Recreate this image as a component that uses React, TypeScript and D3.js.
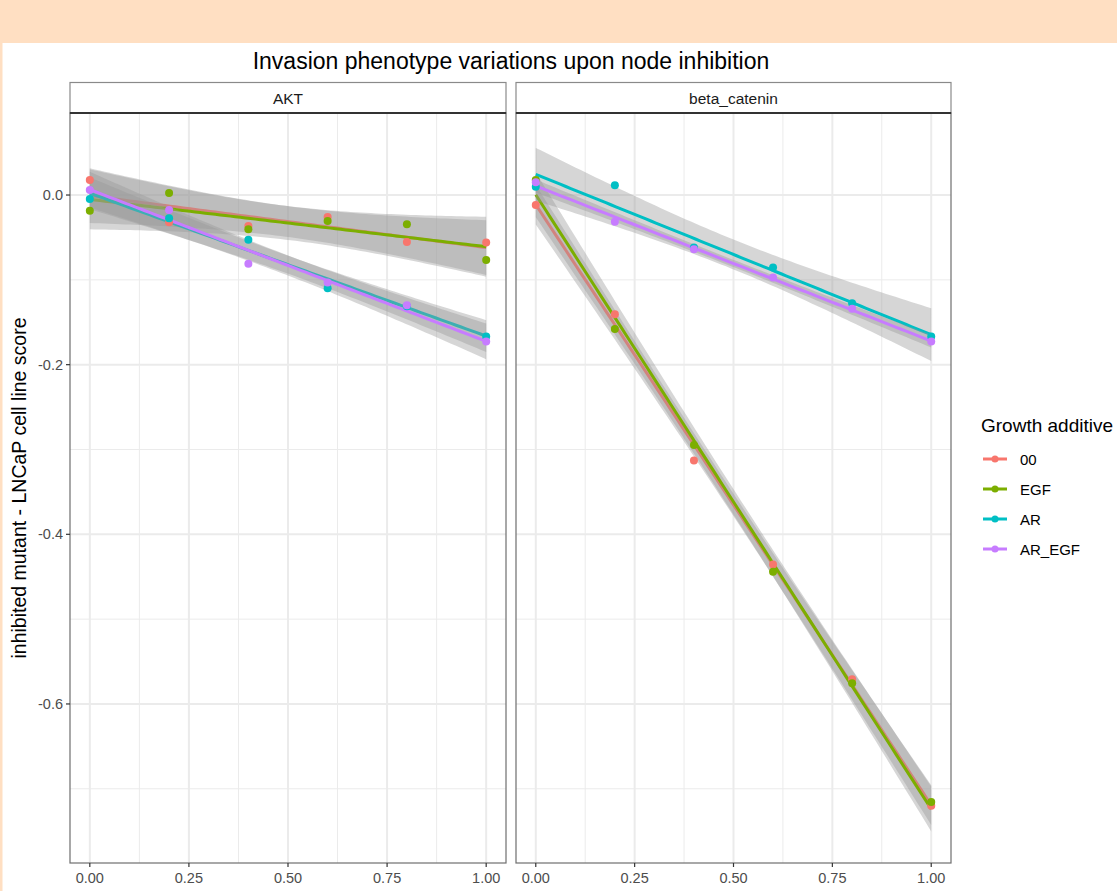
import * as d3 from "d3";
import { useEffect, useRef } from "react";

// values
const doses = [0, 0.2, 0.4, 0.6, 0.8, 1.0];
const panels = ["AKT", "beta_catenin"];
const additives = ["00", "EGF", "AR", "AR_EGF"];
const colors = ["#F8766D", "#7CAE00", "#00BFC4", "#C77CFF"];

const aktScores = [
  [0.0177, -0.032, -0.0365, -0.0259, -0.0553, -0.0561],
  [-0.0185, 0.0024, -0.0404, -0.0306, -0.0345, -0.0765],
  [-0.0047, -0.0275, -0.0526, -0.11, -0.131, -0.1668],
  [0.006, -0.0177, -0.081, -0.103, -0.13, -0.1727],
];
const betaScores = [
  [-0.0118, -0.1405, -0.313, -0.4356, -0.571, -0.72],
  [0.0177, -0.158, -0.2948, -0.4442, -0.5756, -0.7157],
  [0.0098, 0.0114, -0.062, -0.0855, -0.1275, -0.1668],
  [0.015, -0.0314, -0.064, -0.0973, -0.134, -0.1727],
];

const xTicks = [0, 0.25, 0.5, 0.75, 1];
const xMinor = [0.125, 0.375, 0.625, 0.875];
const yTicks = [0, -0.2, -0.4, -0.6];
const yMinor = [-0.1, -0.3, -0.5, -0.7];

const WIDTH = 1117;
const HEIGHT = 891;
const FONT = "'Liberation Sans', Arial, sans-serif";

// ordinary least squares with a 95% confidence band, like geom_smooth(method = "lm")
const fitLm = (xs: number[], ys: number[]) => {
  const n = xs.length;
  const mx = d3.mean(xs)!;
  const my = d3.mean(ys)!;
  const sxx = d3.sum(xs, (x) => (x - mx) ** 2);
  const sxy = d3.sum(xs, (x, i) => (x - mx) * (ys[i] - my));
  const slope = sxy / sxx;
  const icpt = my - slope * mx;
  const sse = d3.sum(xs, (x, i) => (ys[i] - (icpt + slope * x)) ** 2);
  const s = Math.sqrt(sse / (n - 2));
  const t = 2.776; // qt(0.975, 4)
  const grid = d3.range(80).map((i) => i / 79);
  return grid.map((x) => {
    const fit = icpt + slope * x;
    const se = s * Math.sqrt(1 / n + (x - mx) ** 2 / sxx);
    return { x, fit, lo: fit - t * se, hi: fit + t * se };
  });
};

const App = () => {
  const svgRef = useRef<SVGSVGElement>(null);

  useEffect(() => {
    const svg = d3.select(svgRef.current);
    svg.selectAll("*").remove();

    // page background
    svg.append("rect").attr("width", WIDTH).attr("height", HEIGHT).attr("fill", "#fff");
    svg.append("rect").attr("width", WIDTH).attr("height", 43).attr("fill", "#FFDFC2");
    svg.append("rect").attr("width", 2.5).attr("height", HEIGHT).attr("fill", "#FFDFC2");

    const top = 113;
    const bottom = 863;
    const y = d3.scaleLinear().domain([-0.7875, 0.0967]).range([bottom, top]);
    const panelX = [
      [70, 506],
      [516, 951],
    ];
    const allScores = [aktScores, betaScores];

    svg
      .append("text")
      .attr("x", 511)
      .attr("y", 69)
      .attr("text-anchor", "middle")
      .attr("font-family", FONT)
      .attr("font-size", 23)
      .attr("fill", "#000")
      .text("Invasion phenotype variations upon node inhibition");

    panels.forEach((name, p) => {
      const [x0, x1] = panelX[p];
      const x = d3.scaleLinear().domain([-0.05, 1.05]).range([x0, x1]);
      const g = svg.append("g");

      // strip
      g.append("rect")
        .attr("x", x0)
        .attr("y", 82.5)
        .attr("width", x1 - x0)
        .attr("height", top - 82.5)
        .attr("fill", "#fff")
        .attr("stroke", "#8a8a8a")
        .attr("stroke-width", 1.2);
      g.append("text")
        .attr("x", (x0 + x1) / 2)
        .attr("y", 104)
        .attr("text-anchor", "middle")
        .attr("font-family", FONT)
        .attr("font-size", 15.5)
        .attr("fill", "#1a1a1a")
        .text(name);

      // grid
      const grid = g.append("g").attr("stroke", "#ebebeb");
      xMinor.forEach((v) =>
        grid.append("line").attr("x1", x(v)).attr("x2", x(v)).attr("y1", top).attr("y2", bottom).attr("stroke-width", 1)
      );
      yMinor.forEach((v) =>
        grid.append("line").attr("x1", x0).attr("x2", x1).attr("y1", y(v)).attr("y2", y(v)).attr("stroke-width", 1)
      );
      xTicks.forEach((v) =>
        grid.append("line").attr("x1", x(v)).attr("x2", x(v)).attr("y1", top).attr("y2", bottom).attr("stroke-width", 2)
      );
      yTicks.forEach((v) =>
        grid.append("line").attr("x1", x0).attr("x2", x1).attr("y1", y(v)).attr("y2", y(v)).attr("stroke-width", 2)
      );

      // smooths: ribbon + line per group, in group order
      const scores = allScores[p];
      const clipId = "clip" + p;
      svg
        .append("clipPath")
        .attr("id", clipId)
        .append("rect")
        .attr("x", x0)
        .attr("y", top)
        .attr("width", x1 - x0)
        .attr("height", bottom - top);
      const plot = g.append("g").attr("clip-path", `url(#${clipId})`);
      additives.forEach((_, k) => {
        const fit = fitLm(doses, scores[k]);
        plot
          .append("path")
          .datum(fit)
          .attr("fill", "#999999")
          .attr("fill-opacity", 0.4)
          .attr(
            "d",
            d3
              .area<{ x: number; lo: number; hi: number }>()
              .x((d) => x(d.x))
              .y0((d) => y(d.lo))
              .y1((d) => y(d.hi))
          );
        plot
          .append("path")
          .datum(fit)
          .attr("fill", "none")
          .attr("stroke", colors[k])
          .attr("stroke-width", 3)
          .attr(
            "d",
            d3
              .line<{ x: number; fit: number }>()
              .x((d) => x(d.x))
              .y((d) => y(d.fit))
          );
      });
      additives.forEach((_, k) => {
        scores[k].forEach((v, i) => {
          plot
            .append("circle")
            .attr("cx", x(doses[i]))
            .attr("cy", y(v))
            .attr("r", 4)
            .attr("fill", colors[k]);
        });
      });

      // panel border
      g.append("rect")
        .attr("x", x0)
        .attr("y", top)
        .attr("width", x1 - x0)
        .attr("height", bottom - top)
        .attr("fill", "none")
        .attr("stroke", "#6e6e6e")
        .attr("stroke-width", 1.2);
      g.append("line")
        .attr("x1", x0)
        .attr("x2", x1)
        .attr("y1", top)
        .attr("y2", top)
        .attr("stroke", "#333")
        .attr("stroke-width", 2);

      // x axis
      const xa = g.append("g");
      xTicks.forEach((v) => {
        xa.append("line")
          .attr("x1", x(v))
          .attr("x2", x(v))
          .attr("y1", bottom)
          .attr("y2", bottom + 4)
          .attr("stroke", "#333")
          .attr("stroke-width", 1.2);
        xa.append("text")
          .attr("x", x(v))
          .attr("y", bottom + 20)
          .attr("text-anchor", "middle")
          .attr("font-family", FONT)
          .attr("font-size", 14.5)
          .attr("fill", "#4d4d4d")
          .text(d3.format(".2f")(v));
      });

      // y axis on the first panel only
      if (p === 0) {
        yTicks.forEach((v) => {
          g.append("line")
            .attr("x1", x0 - 4)
            .attr("x2", x0)
            .attr("y1", y(v))
            .attr("y2", y(v))
            .attr("stroke", "#333")
            .attr("stroke-width", 1.2);
          g.append("text")
            .attr("x", x0 - 7)
            .attr("y", y(v) + 5)
            .attr("text-anchor", "end")
            .attr("font-family", FONT)
            .attr("font-size", 14.5)
            .attr("fill", "#4d4d4d")
            .text(d3.format(".1f")(v).replace("−", "-"));
        });
      }
    });

    svg
      .append("text")
      .attr("transform", `translate(26,${(top + bottom) / 2}) rotate(-90)`)
      .attr("text-anchor", "middle")
      .attr("font-family", FONT)
      .attr("font-size", 19.5)
      .attr("fill", "#000")
      .text("inhibited mutant - LNCaP cell line score");

    // legend
    const lg = svg.append("g");
    lg.append("text")
      .attr("x", 981)
      .attr("y", 432)
      .attr("font-family", FONT)
      .attr("font-size", 19)
      .attr("fill", "#000")
      .text("Growth additive");
    additives.forEach((a, k) => {
      const ky = 459 + k * 30;
      lg.append("line")
        .attr("x1", 983)
        .attr("x2", 1007)
        .attr("y1", ky)
        .attr("y2", ky)
        .attr("stroke", colors[k])
        .attr("stroke-width", 3);
      lg.append("circle").attr("cx", 995).attr("cy", ky).attr("r", 3.5).attr("fill", colors[k]);
      lg.append("text")
        .attr("x", 1020)
        .attr("y", ky + 5.5)
        .attr("font-family", FONT)
        .attr("font-size", 15)
        .attr("fill", "#000")
        .text(a);
    });
  }, []);

  return (
    <div style={{ position: "absolute", left: 0, top: 0 }}>
      <svg ref={svgRef} width={WIDTH} height={HEIGHT} style={{ display: "block" }}></svg>
    </div>
  );
};

export default App;
